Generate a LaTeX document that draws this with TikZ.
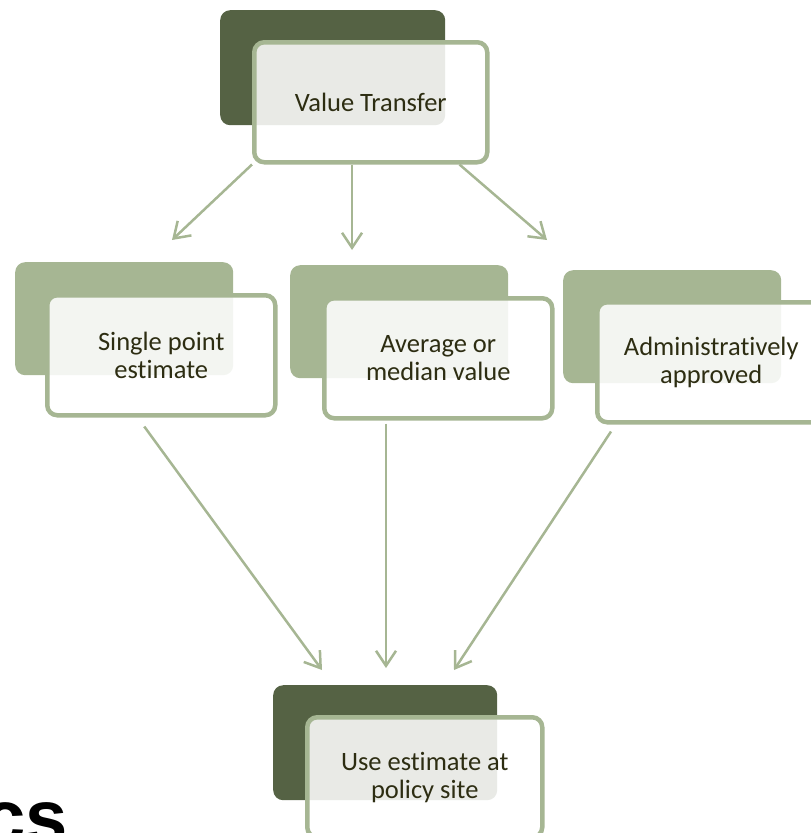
\documentclass[tikz,border=0pt]{standalone}
\usepackage{fontspec}
\setmainfont[Ligatures=NoCommon]{Carlito}
\newfontfamily\headfont{Liberation Sans}
\usetikzlibrary{arrows.meta}
\usetikzlibrary{positioning}
\definecolor{darkolive}{RGB}{85,98,68}
\definecolor{sage}{RGB}{166,182,147}
\definecolor{inktext}{RGB}{45,45,18}
\tikzset{
    backbox/.style={
           rectangle,
           rounded corners=10pt,
           fill=#1,
           inner sep=0pt,
           minimum width=218pt,
           minimum height=113pt,
           anchor=north west,
           },
    frontbox/.style={
           rectangle,
           rounded corners=10pt,
           draw=sage, line width=4.5pt,
           fill=white, fill opacity=0.87, text opacity=1,
           text=inktext,
           inner sep=2pt,
           minimum width=228pt,
           minimum height=120pt,
           align=center,
           font=\fontsize{26.5}{28}\selectfont,
           anchor=north west,
           },
    flow/.style={
           draw=sage, line width=2.5pt,
           -{Straight Barb[length=15pt,width=20pt]},
           },
}
\begin{document}
\begin{tikzpicture}[x=1pt,y=-1pt]
 \clip (0,0) rectangle (811,833);
 % top box
 \node[backbox=darkolive,
 minimum width=225pt,
 minimum height=115pt] (vtback) at (220,10) {};
 \node[frontbox,
 minimum width=233pt] (vt) at ([shift={(32,30)}]vtback.north west)
 {Value Transfer};

 % the three kinds of values
 \node[backbox=sage] (spback) at (15,262) {};
 \node[frontbox] (sp) at ([shift={(30,31)}]spback.north west)
 {Single point\\estimate};

 \node[backbox=sage] (avback) at (290,265) {};
 \node[frontbox] (av) at ([shift={(32,31)}]avback.north west)
 {Average or\\median value};

 \node[backbox=sage] (adback) at (563,270) {};
 \node[frontbox] (ad) at ([shift={(32,30)}]adback.north west)
 {Administratively\\approved};

 % bottom box
 \node[backbox=darkolive,
 minimum width=224pt,
 minimum height=115pt] (ueback) at (273,685) {};
 \node[frontbox,
 minimum width=235pt] (ue) at ([shift={(32,30)}]ueback.north west)
 {Use estimate at\\policy site};

 % cut off heading
 \node[anchor=base east, inner sep=0pt,
 font=\headfont\bfseries\fontsize{76}{76}\selectfont] (cs) at (68,843) {cs};

 % free ends of the arrows
 \coordinate (vtl) at (172,240);
 \coordinate (vtm) at (352,250);
 \coordinate (vtr) at (547,240);
 \coordinate (uel) at (322,670);
 \coordinate (uem) at (386,668);
 \coordinate (uer) at (454,670);

 % draw the arrows
 \draw[flow] (vt.south west) -- (vtl);
 \draw[flow] (vt.south -| vtm) -- (vtm);
 \draw[flow] ([xshift=-30pt]vt.south east) -- (vtr);
 \draw[flow] ([shift={(-17,9)}]sp.south) -- (uel);
 \draw[flow] ([yshift=-3pt]av.south -| uem) -- (uem);
 \draw[flow] ([shift={(16,7)}]ad.south west) -- (uer);
\end{tikzpicture}
\end{document}
